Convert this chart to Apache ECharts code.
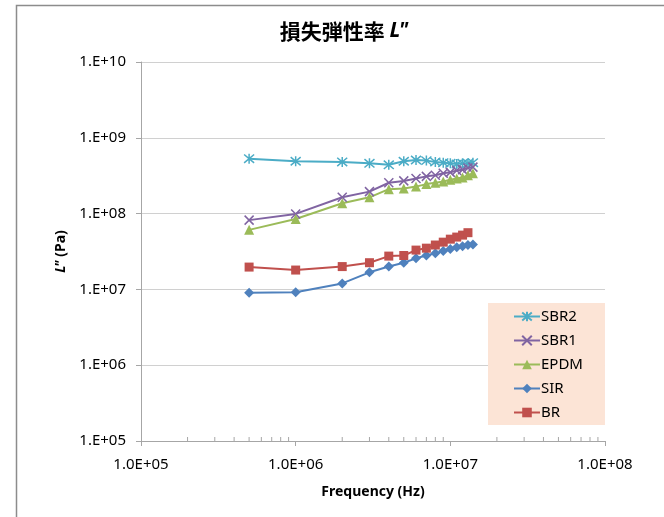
<!DOCTYPE html>
<html>
<head>
<meta charset="utf-8">
<script src="https://cdn.jsdelivr.net/npm/echarts@6/dist/echarts.min.js"></script>
<style>
  html, body { margin: 0; padding: 0; background: #fff; }
  #chart { width: 664px; height: 517px; }
</style>
</head>
<body>
<div id="chart"></div>
<script>
// frequencies (Hz)
const freq = [5e5, 1e6, 2e6, 3e6, 4e6, 5e6, 6e6, 7e6, 8e6, 9e6, 1e7, 1.1e7, 1.2e7, 1.3e7, 1.4e7]
// loss modulus L'' (Pa)
const sbr2 = [5.3e8, 4.9e8, 4.8e8, 4.6e8, 4.4e8, 4.9e8, 5.1e8, 5.0e8, 4.8e8, 4.7e8, 4.6e8, 4.5e8, 4.6e8, 4.6e8, 4.7e8]
const sbr1 = [8.2e7, 9.9e7, 1.64e8, 1.95e8, 2.55e8, 2.7e8, 2.9e8, 3.1e8, 3.2e8, 3.4e8, 3.5e8, 3.7e8, 3.8e8, 4.0e8, 4.1e8]
const epdm = [6.1e7, 8.5e7, 1.37e8, 1.64e8, 2.1e8, 2.15e8, 2.27e8, 2.45e8, 2.55e8, 2.65e8, 2.8e8, 2.9e8, 3.0e8, 3.2e8, 3.4e8]
const sir = [9.0e6, 9.2e6, 1.2e7, 1.68e7, 2.0e7, 2.25e7, 2.57e7, 2.8e7, 3.0e7, 3.2e7, 3.4e7, 3.6e7, 3.7e7, 3.85e7, 3.9e7]
const br = [1.97e7, 1.8e7, 2.0e7, 2.25e7, 2.75e7, 2.8e7, 3.3e7, 3.5e7, 3.85e7, 4.2e7, 4.6e7, 4.9e7, 5.2e7, 5.6e7]
// minor ticks on the frequency axis
const minorTicks = [2e5, 3e5, 4e5, 5e5, 6e5, 7e5, 8e5, 9e5,
  2e6, 3e6, 4e6, 5e6, 6e6, 7e6, 8e6, 9e6,
  2e7, 3e7, 4e7, 5e7, 6e7, 7e7, 8e7, 9e7]

const font = '"Noto Sans", "Open Sans", sans-serif'

function pairs(ys) {
  return ys.map((y, i) => [freq[i], y])
}

function lineSeries(name, ys, color, symbol, size, stroked) {
  return {
    name: name,
    type: 'line',
    data: pairs(ys),
    symbol: symbol,
    symbolSize: size,
    showSymbol: true,
    lineStyle: { color: color, width: 2 },
    itemStyle: stroked
      ? { color: 'rgba(0,0,0,0)', borderColor: color, borderWidth: 1.5 }
      : { color: color, borderWidth: 0 },
    emphasis: { disabled: true },
    z: 3,
  }
}

// tick label text, e.g. 1.E+07 / 1.0E+07
function expLabel(v, mant) {
  return mant + 'E+' + String(Math.round(Math.log10(v))).padStart(2, '0')
}

const myChart = echarts.init(document.getElementById('chart'))
myChart.setOption({
  animation: false,
  textStyle: { fontFamily: font, fontSize: 14 },
  title: {
    text: '{a|損失弾性率 }{b|L"}',
    left: 339,
    textAlign: 'center',
    top: 16,
    textStyle: {
      rich: {
        a: { fontFamily: '"Noto Sans CJK JP", sans-serif', fontWeight: 'bold', fontSize: 21, color: '#000' },
        b: { fontFamily: font, fontWeight: 'bold', fontStyle: 'italic', fontSize: 21, color: '#000' },
      },
    },
  },
  graphic: [
    {
      type: 'rect',
      shape: { x: 16.5, y: 5.5, width: 700, height: 600 },
      style: { fill: 'none', stroke: '#8c8c8c', lineWidth: 1.5 },
      silent: true,
    },
  ],
  grid: { left: 141, right: 59, top: 62, bottom: 76, containLabel: false },
  legend: {
    orient: 'vertical',
    left: 488,
    top: 303,
    backgroundColor: '#fce4d6',
    padding: [6, 22, 5, 25],
    itemGap: 9,
    itemWidth: 26,
    itemHeight: 12,
    data: ['SBR2', 'SBR1', 'EPDM', 'SIR', 'BR'],
    textStyle: { fontFamily: font, fontSize: 15, color: '#000', padding: [0, 0, 0, -4] },
  },
  xAxis: {
    type: 'log',
    logBase: 10,
    min: 1e5,
    max: 1e8,
    name: 'Frequency (Hz)',
    nameLocation: 'middle',
    nameGap: 44,
    nameTextStyle: { fontFamily: font, fontWeight: 'bold', fontSize: 14, color: '#000' },
    axisLine: { lineStyle: { color: '#a6a6a6' } },
    axisTick: { length: 5, lineStyle: { color: '#a6a6a6' } },
    axisLabel: {
      fontFamily: font,
      fontSize: 15,
      color: '#000',
      margin: 16,
      formatter: (v) => expLabel(v, '1.0'),
    },
    splitLine: { show: false },
  },
  yAxis: {
    type: 'log',
    logBase: 10,
    min: 1e5,
    max: 1e10,
    name: '{b|L"} {a|(Pa)}',
    nameLocation: 'middle',
    nameGap: 69,
    nameRotate: 90,
    nameTextStyle: {
      rich: {
        a: { fontFamily: font, fontWeight: 'bold', fontSize: 14, color: '#000' },
        b: { fontFamily: font, fontWeight: 'bold', fontStyle: 'italic', fontSize: 14, color: '#000' },
      },
    },
    axisLine: { show: true, lineStyle: { color: '#a6a6a6' } },
    axisTick: { show: true, length: 5, lineStyle: { color: '#a6a6a6' } },
    axisLabel: {
      fontFamily: font,
      fontSize: 15,
      color: '#000',
      margin: 15,
      formatter: (v) => expLabel(v, '1.'),
    },
    splitLine: { show: true, lineStyle: { color: '#d0d0d0', width: 1 } },
  },
  series: [
    {
      type: 'custom',
      silent: true,
      data: minorTicks.map((v) => [v, 1e5]),
      renderItem: (params, api) => {
        const p = api.coord([api.value(0), api.value(1)])
        return {
          type: 'line',
          shape: { x1: p[0], y1: p[1], x2: p[0], y2: p[1] - 4 },
          style: { stroke: '#a6a6a6', lineWidth: 1 },
        }
      },
      z: 1,
    },
    lineSeries('SBR2', sbr2, '#4bacc6', 'path://M0,0L10,10M10,0L0,10M5,-1L5,11', 10, true),
    lineSeries('SBR1', sbr1, '#8064a2', 'path://M0,0L10,10M10,0L0,10', 9, true),
    lineSeries('EPDM', epdm, '#9bbb59', 'triangle', 10, false),
    lineSeries('SIR', sir, '#4f81bd', 'diamond', 10, false),
    lineSeries('BR', br, '#c0504d', 'rect', 9, false),
  ],
})
window.addEventListener('resize', () => {
  myChart.resize()
})
</script>
</body>
</html>
